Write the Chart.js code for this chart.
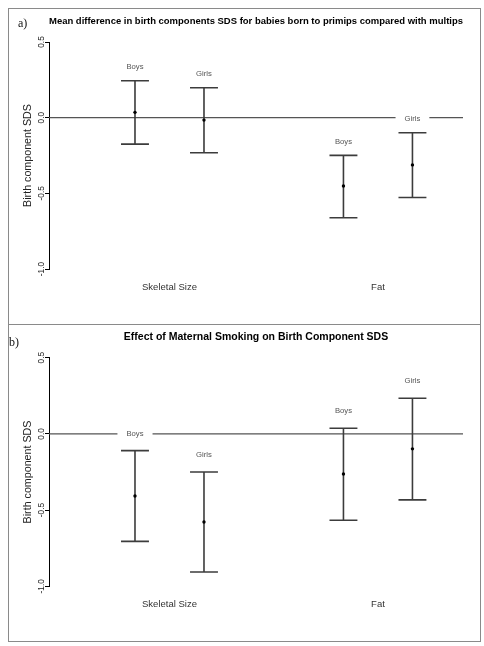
<!DOCTYPE html>
<html><head><meta charset="utf-8">
<script src="https://cdn.jsdelivr.net/npm/chart.js@4"></script>
<style>
html,body{margin:0;padding:0;background:#fff;width:484px;height:646px;overflow:hidden;}
.panel{position:absolute;border:1px solid #8a8a8a;box-sizing:border-box;}
#pa{left:8px;top:8px;width:473px;height:317px;}
#pb{left:8px;top:324px;width:473px;height:318px;}
.wrap{position:absolute;left:0;width:484px;height:323px;}
#wa{top:0;}
#wb{top:316px;}
</style></head><body>
<div class="panel" id="pa"></div><div class="panel" id="pb"></div>
<div class="wrap" id="wa"><canvas id="ca"></canvas></div>
<div class="wrap" id="wb"><canvas id="cb"></canvas></div>
<script>
// ---- data ----
const categories = ['Skeletal Size', 'Fat'];
const groups = ['Boys', 'Girls'];
const yTicks = [0.5, 0.0, -0.5, -1.0];
const yAxisTitle = 'Birth component SDS';

const titleA = 'Mean difference in birth components SDS for babies born to primips compared with multips';
const aBoysMean  = [0.035, -0.452];
const aBoysLower = [-0.175, -0.661];
const aBoysUpper = [0.244, -0.249];
const aGirlsMean  = [-0.016, -0.312];
const aGirlsLower = [-0.232, -0.528];
const aGirlsUpper = [0.198, -0.100];

const titleB = 'Effect of Maternal Smoking on Birth Component SDS';
const bBoysMean  = [-0.407, -0.263];
const bBoysLower = [-0.705, -0.567];
const bBoysUpper = [-0.110, 0.037];
const bGirlsMean  = [-0.578, -0.098];
const bGirlsLower = [-0.906, -0.433];
const bGirlsUpper = [-0.250, 0.234];

// ---- layout/style ----
const X_MIN = 0.422, X_MAX = 2.408;
const GROUP_OFF = [-0.1655, 0.1655];
const CAP = 0.067;
const FONT = "'Liberation Sans', Arial, sans-serif";

function whiskers(lower, upper, off) {
  const pts = [];
  categories.forEach((c, i) => {
    const x = i + 1 + off;
    pts.push({x: x - CAP, y: upper[i]}, {x: x + CAP, y: upper[i]}, {x: x, y: null});
    pts.push({x: x, y: upper[i]}, {x: x, y: lower[i]}, {x: x, y: null});
    pts.push({x: x - CAP, y: lower[i]}, {x: x + CAP, y: lower[i]}, {x: x, y: null});
  });
  return pts;
}
function means(mean, off) {
  return categories.map((c, i) => ({x: i + 1 + off, y: mean[i]}));
}

const labelPlugin = {
  id: 'groupLabels',
  afterDatasetsDraw(chart, args, opts) {
    const ctx = chart.ctx, xs = chart.scales.x, ys = chart.scales.y;
    ctx.save();
    ctx.font = '7.7px ' + FONT;
    ctx.textAlign = 'center';
    ctx.textBaseline = 'middle';
    opts.uppers.forEach((upper, g) => {
      categories.forEach((c, i) => {
        const px = xs.getPixelForValue(i + 1 + GROUP_OFF[g]);
        const py = ys.getPixelForValue(upper[i]) - opts.labelOffset;
        const w = ctx.measureText(groups[g]).width;
        ctx.fillStyle = '#fff';
        ctx.fillRect(px - w / 2 - 9, py - 4, w + 18, 8);
        ctx.fillStyle = '#555';
        ctx.fillText(groups[g], px, py);
      });
    });
    ctx.font = "12px 'Liberation Serif', 'Times New Roman', serif";
    ctx.fillStyle = '#111';
    ctx.textAlign = 'left';
    ctx.fillText(opts.letter, opts.letterX, opts.letterY);
    ctx.restore();
  }
};

function makeChart(id, cfg) {
  const ds = [];
  ds.push({data: [{x: X_MIN, y: 0}, {x: X_MAX, y: 0}], showLine: true, borderColor: '#555', borderWidth: 1.3, pointRadius: 0, order: 3});
  cfg.series.forEach((s, g) => {
    ds.push({data: whiskers(s.lower, s.upper, GROUP_OFF[g]), showLine: true, spanGaps: false,
      borderColor: '#3c3c3c', borderWidth: 1.6, pointRadius: 0, order: 2});
  });
  cfg.series.forEach((s, g) => {
    ds.push({data: means(s.mean, GROUP_OFF[g]), showLine: false, pointRadius: 1.7,
      pointBackgroundColor: '#000', pointBorderColor: '#000', pointBorderWidth: 0, order: 1});
  });
  return new Chart(document.getElementById(id), {
    type: 'scatter',
    data: {datasets: ds},
    plugins: [labelPlugin],
    options: {
      responsive: true, maintainAspectRatio: false, animation: false,
      layout: {padding: {left: 18, right: 21, top: 0, bottom: 0}},
      plugins: {
        legend: {display: false}, tooltip: {enabled: false}, title: {display: false},
        groupLabels: {uppers: cfg.series.map(s => s.upper), labelOffset: cfg.labelOffset,
          letter: cfg.letter, letterX: cfg.letterX, letterY: cfg.letterY}
      },
      scales: {
        x: {
          type: 'linear', position: 'bottom', min: X_MIN, max: X_MAX, bounds: 'data',
          afterBuildTicks: s => { s.ticks = categories.map((c, i) => ({value: i + 1})); },
          afterFit: s => { s.height = cfg.bottomH; },
          ticks: {callback: (v, i) => categories[i], autoSkip: false, maxRotation: 0,
            font: {family: FONT, size: 9.5, lineHeight: 1.2}, color: '#333', padding: 12.3},
          grid: {display: false, drawTicks: false}, border: {display: false}
        },
        x2: {
          type: 'linear', position: 'top', min: 0, max: 1, bounds: 'data',
          afterFit: s => { s.height = cfg.topH; },
          ticks: {display: false}, grid: {display: false, drawTicks: false}, border: {display: false},
          title: {display: true, text: cfg.title, color: '#000',
            font: {family: FONT, size: cfg.titleSize, weight: 'bold', lineHeight: 1.2},
            padding: {top: cfg.titleY - cfg.titleSize * 0.6, bottom: 0}}
        },
        y: {
          type: 'linear', min: -1, max: 0.5, bounds: 'data',
          afterBuildTicks: s => { s.ticks = yTicks.map(v => ({value: v})); },
          afterFit: s => { s.width = 31; },
          ticks: {callback: v => v.toFixed(1), minRotation: 90, maxRotation: 90, crossAlign: 'center',
            padding: -4.15, font: {family: FONT, size: 8.3}, color: '#222'},
          grid: {display: true, drawOnChartArea: false, drawTicks: true, tickLength: 4, color: '#000', lineWidth: 1},
          border: {display: true, color: '#000', width: 1},
          title: {display: true, text: yAxisTitle, color: '#222',
            font: {family: FONT, size: 10.7, lineHeight: 1.2}, padding: {top: 4, bottom: 0}}
        }
      }
    }
  });
}

makeChart('ca', {
  title: titleA, titleSize: 9.6, titleY: 21, topH: 42, bottomH: 54,
  letter: 'a)', letterX: 18, letterY: 24, labelOffset: 13.5,
  series: [
    {mean: aBoysMean, lower: aBoysLower, upper: aBoysUpper},
    {mean: aGirlsMean, lower: aGirlsLower, upper: aGirlsUpper}
  ]
});
makeChart('cb', {
  title: titleB, titleSize: 10.5, titleY: 21, topH: 41.7, bottomH: 52.7,
  letter: 'b)', letterX: 9, letterY: 26.7, labelOffset: 17,
  series: [
    {mean: bBoysMean, lower: bBoysLower, upper: bBoysUpper},
    {mean: bGirlsMean, lower: bGirlsLower, upper: bGirlsUpper}
  ]
});
</script>
</body></html>
